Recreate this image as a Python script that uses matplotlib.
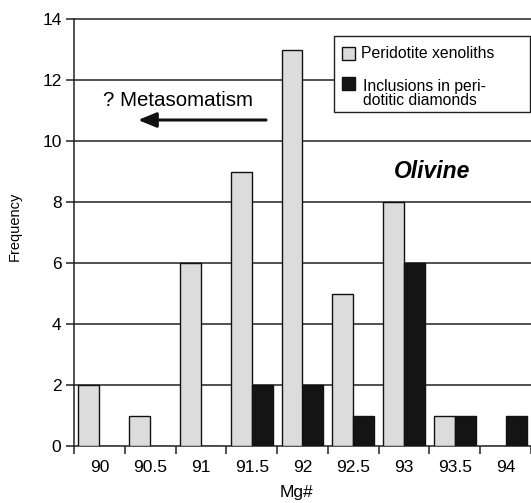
import matplotlib
matplotlib.use("Agg")
import matplotlib.pyplot as plt
from matplotlib.patches import Rectangle
import numpy as np

plt.rcParams['font.family'] = ['Liberation Sans', 'DejaVu Sans']

categories = ["90", "90.5", "91", "91.5", "92", "92.5", "93", "93.5", "94"]
peridotite = [2, 1, 6, 9, 13, 5, 8, 1, 0]
inclusions = [0, 0, 0, 2, 2, 1, 6, 1, 1]
yticks = [0, 2, 4, 6, 8, 10, 12, 14]
grey_c = "#dcdcdc"
black_c = "#141414"

W, H = 531, 503
fig = plt.figure(figsize=(W / 100, H / 100), dpi=100)
left, right = 74 / W, 1.0
bottom, top = (H - 446) / H, (H - 19) / H
ax = fig.add_axes([left, bottom, right - left, top - bottom])

catw = 50.9
x = np.arange(len(categories))
bw = 21 / catw
ax.bar(x - bw / 2, peridotite, width=bw, color=grey_c, edgecolor="#111111",
       linewidth=1.0, zorder=3)
ax.bar(x + bw / 2, inclusions, width=bw, color=black_c, edgecolor="#111111",
       linewidth=1.0, zorder=3)

ax.set_xlim(-0.5, -0.5 + (W - 74) / catw)
ax.set_ylim(0, 14)

for yv in yticks[1:]:
    ax.axhline(yv, color="#222222", linewidth=1.1, zorder=1, clip_on=False)

for s in ["top", "right"]:
    ax.spines[s].set_visible(False)
for s in ["left", "bottom"]:
    ax.spines[s].set_linewidth(1.1)
    ax.spines[s].set_color("#222222")

ax.set_xticks(x)
ax.set_xticklabels(categories, fontsize=12.5)
ax.set_xticks(np.arange(-0.5, len(categories) - 0.5 + 0.01, 1.0), minor=True)
ax.tick_params(axis="x", which="major", length=0, pad=10)
ax.tick_params(axis="x", which="minor", length=6, width=1.1, direction="out", color="#222222")
ax.set_yticks(yticks)
ax.set_yticklabels([str(v) for v in yticks], fontsize=12.5)
ax.tick_params(axis="y", length=6, width=1.1, direction="out", pad=3, color="#222222")

fig.text(15 / W, 1 - 226 / H, "Frequency", rotation=90, ha="center", va="center", fontsize=10.5)
fig.text(296 / W, 1 - 492 / H, "Mg#", ha="center", va="center", fontsize=12.5)

fig.text(178 / W, 1 - 100 / H, "? Metasomatism", ha="center", va="center", fontsize=14.8)
ax.annotate("", xy=(138 / W, 1 - 120 / H), xytext=(266 / W, 1 - 120 / H),
            xycoords="figure fraction", textcoords="figure fraction",
            arrowprops=dict(arrowstyle="-|>,head_length=1.1,head_width=0.45",
                            color="#111111", lw=2.2, shrinkA=0, shrinkB=0))
fig.text(432 / W, 1 - 172 / H, "Olivine", ha="center", va="center", fontsize=16.5,
         fontweight="bold", fontstyle="italic")

# legend drawn manually (figure pixel coordinates converted to fractions)
def fx(px):
    return px / W

def fy(py):
    return 1 - py / H

fig.patches.append(Rectangle((fx(334), fy(112)), fx(530) - fx(334), fy(36) - fy(112),
                             transform=fig.transFigure, facecolor="white",
                             edgecolor="#222222", linewidth=1.0, zorder=5))
fig.patches.append(Rectangle((fx(342), fy(60)), 13 / W, 13 / H,
                             transform=fig.transFigure, facecolor=grey_c,
                             edgecolor="#111111", linewidth=1.0, zorder=6))
fig.patches.append(Rectangle((fx(342), fy(90)), 13 / W, 13 / H,
                             transform=fig.transFigure, facecolor=black_c,
                             edgecolor="#111111", linewidth=1.0, zorder=6))
fig.text(fx(361), fy(58), "Peridotite xenoliths", ha="left", va="baseline",
         fontsize=11.3, zorder=7)
fig.text(fx(363), fy(91), "Inclusions in peri-", ha="left", va="baseline",
         fontsize=11.3, zorder=7)
fig.text(fx(363), fy(105), "dotitic diamonds", ha="left", va="baseline",
         fontsize=11.3, zorder=7)

fig.savefig("out.png", dpi=100)
